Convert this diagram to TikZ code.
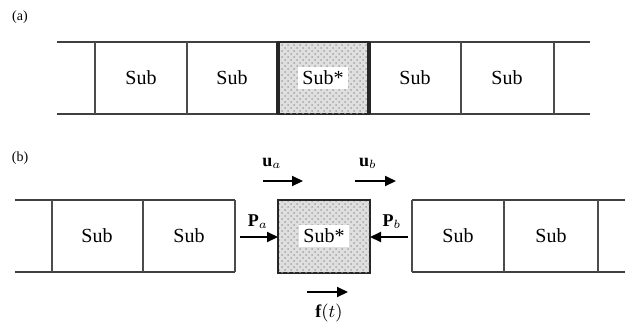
\documentclass[tikz,border=0pt]{standalone}
\usepackage{fontspec}
\setmainfont{Liberation Serif}
\usetikzlibrary{arrows.meta,patterns}
\begin{document}
\begin{tikzpicture}[x=0.5pt,y=-0.5pt,
  rail/.style={draw=black!75,line width=1.1pt},
  sep/.style={draw=black!70,line width=1.1pt},
  hot/.style={draw=black!85,line width=1.3pt,fill=gray!25},
  txt/.style={font=\fontsize{10}{12}\selectfont,inner sep=1pt},
  hottxt/.style={txt,fill=white,inner sep=2pt},
  lbl/.style={font=\fontsize{7}{8}\selectfont,inner sep=0pt},
  sym/.style={font=\fontsize{9}{10}\selectfont,inner sep=0pt},
  vec/.style={draw=black,line width=1pt,-{Triangle[length=5.5pt,width=5pt]}}]
\useasboundingbox (0,0) rectangle (625,327);
% ---------- (a)
\node[lbl] (la) at (20,17) {(a)};
\draw[rail] (57,42) -- (590,42);
\draw[rail] (57,114) -- (590,114);
\filldraw[hot] (278,42) rectangle (369,114);
\fill[pattern=crosshatch dots,pattern color=gray!70] (279,43) rectangle (368,113);
\draw[draw=black!85,line width=1.6pt] (278,42) -- (278,114) (369,42) -- (369,114);
\foreach \x in {95,187,461,554} \draw[sep] (\x,42) -- (\x,114);
\node[txt] (a1) at (141,78) {Sub};
\node[txt] (a2) at (232,78) {Sub};
\node[hottxt] (a3) at (323,78) {Sub*};
\node[txt] (a4) at (415,78) {Sub};
\node[txt] (a5) at (507,78) {Sub};
% ---------- (b)
\node[lbl] (lb) at (20,158) {(b)};
% left block
\draw[rail] (15,200) -- (235,200);
\draw[rail] (15,272) -- (235,272);
\foreach \x in {52,143,235} \draw[sep] (\x,200) -- (\x,272);
\node[txt] (b1) at (97,236) {Sub};
\node[txt] (b2) at (189,236) {Sub};
% right block
\draw[rail] (412,200) -- (625,200);
\draw[rail] (412,272) -- (625,272);
\foreach \x in {412,504,598} \draw[sep] (\x,200) -- (\x,272);
\node[txt] (b4) at (458,236) {Sub};
\node[txt] (b5) at (551,236) {Sub};
% centre
\filldraw[hot] (278,200) rectangle (370,273);
\fill[pattern=crosshatch dots,pattern color=gray!70] (279,201) rectangle (369,272);
\node[hottxt] (b3) at (324,236) {Sub*};
\coordinate (boxL) at (278,237);
\coordinate (boxR) at (370,237);
% forces
\coordinate (pa0) at (240,237);
\coordinate (pb0) at (408,237);
\draw[vec] (pa0) -- (boxL);
\draw[vec] (pb0) -- (boxR);
\node[sym] (pa) at (258,222) {$\mathbf{P}_a$};
\node[sym] (pb) at (392,222) {$\mathbf{P}_b$};
% displacements
\coordinate (ua0) at (263,181); \coordinate (ua1) at (303,181);
\coordinate (ub0) at (355,181); \coordinate (ub1) at (396,181);
\draw[vec] (ua0) -- (ua1);
\draw[vec] (ub0) -- (ub1);
\node[sym] (ua) at (272,163) {$\mathbf{u}_a$};
\node[sym] (ub) at (368,163) {$\mathbf{u}_b$};
\coordinate (f0) at (307,292); \coordinate (f1) at (348,292);
\draw[vec] (f0) -- (f1);
\node[sym] (ft) at (329,313) {$\mathbf{f}(t)$};
\end{tikzpicture}
\end{document}
